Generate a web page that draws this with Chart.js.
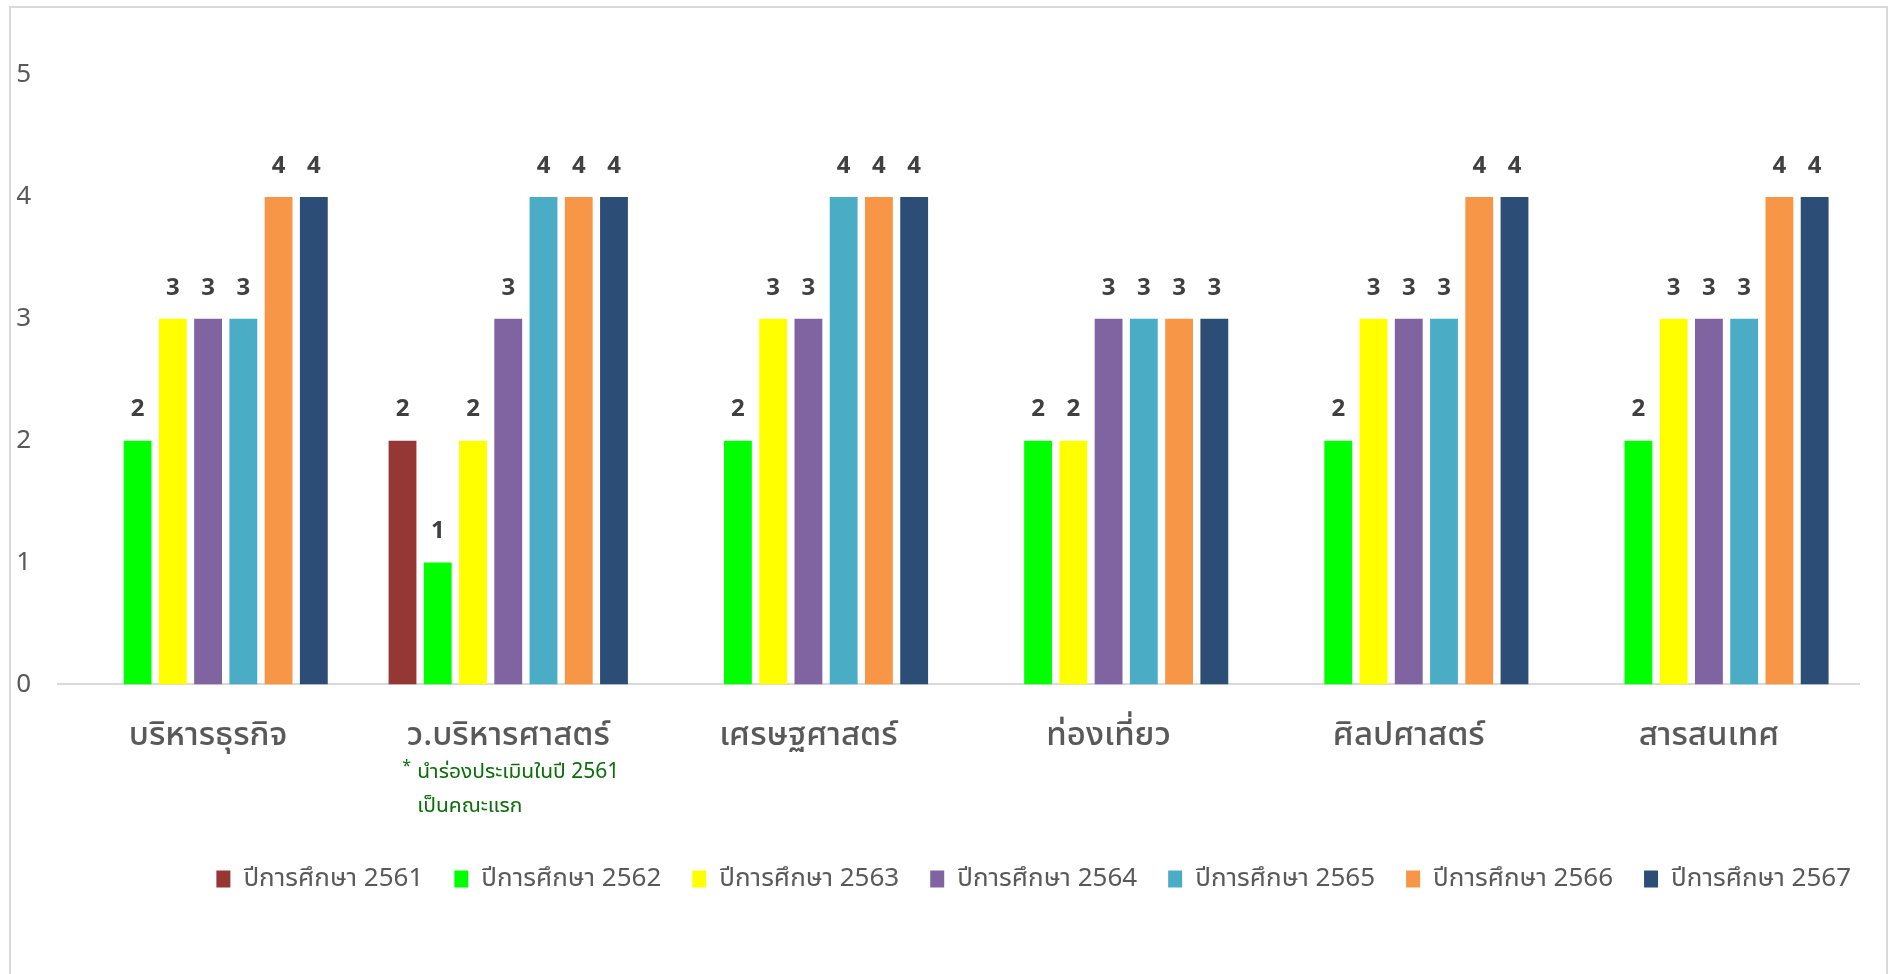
<!DOCTYPE html>
<html>
<head>
<meta charset="utf-8">
<script src="https://cdn.jsdelivr.net/npm/chart.js@4.4.1/dist/chart.umd.min.js"></script>
<style>
  html, body { margin: 0; padding: 0; background: #fff; }
  .frame {
    position: absolute; left: 9px; top: 6px; width: 1879px; height: 990px;
    border: 2px solid #d9d9d9; box-sizing: border-box;
  }
  .box { position: absolute; left: 2px; top: 2px; width: 1873px; height: 958px; }
</style>
</head>
<body>
<div class="frame"><div class="box"><canvas id="chart"></canvas></div></div>
<script>
// Faculties (categories) and assessed level per academic year.
const categories = ['บริหารธุรกิจ', 'ว.บริหารศาสตร์', 'เศรษฐศาสตร์', 'ท่องเที่ยว', 'ศิลปศาสตร์', 'สารสนเทศ'];
const yearLabels = ['ปีการศึกษา 2561', 'ปีการศึกษา 2562', 'ปีการศึกษา 2563', 'ปีการศึกษา 2564',
  'ปีการศึกษา 2565', 'ปีการศึกษา 2566', 'ปีการศึกษา 2567'];
const y2561 = [null, 2, null, null, null, null];
const y2562 = [2, 1, 2, 2, 2, 2];
const y2563 = [3, 2, 3, 2, 3, 3];
const y2564 = [3, 3, 3, 3, 3, 3];
const y2565 = [3, 4, 4, 3, 3, 3];
const y2566 = [4, 4, 4, 3, 4, 4];
const y2567 = [4, 4, 4, 3, 4, 4];
const yTicks = [0, 1, 2, 3, 4, 5];

// footnote under the pilot faculty
const noteIndex = 1;
const noteLines = ['นำร่องประเมินในปี 2561', 'เป็นคณะแรก'];

const colors = ['#953735', '#00ff00', '#ffff00', '#8064a2', '#4bacc6', '#f79646', '#2c4d75'];
const series = [y2561, y2562, y2563, y2564, y2565, y2566, y2567];

const FONT = "'Noto Sans Thai UI', 'Noto Sans Thai', 'Noto Sans', sans-serif";
Chart.defaults.font.family = FONT;

// value above each bar
const valueLabels = {
  id: 'valueLabels',
  afterDatasetsDraw(chart) {
    const { ctx } = chart;
    ctx.save();
    ctx.font = `bold 24px ${FONT}`;
    ctx.fillStyle = '#404040';
    ctx.textAlign = 'center';
    ctx.textBaseline = 'middle';
    chart.data.datasets.forEach((ds, i) => {
      chart.getDatasetMeta(i).data.forEach((bar, j) => {
        if (ds.data[j] == null) return;
        ctx.fillText(String(ds.data[j]), bar.x, bar.y - 31);
      });
    });
    ctx.restore();
  }
};

const footNote = {
  id: 'footNote',
  afterDraw(chart) {
    const { ctx } = chart;
    const x = chart.scales.x.getPixelForValue(noteIndex);
    const top = chart.chartArea.bottom;
    ctx.save();
    ctx.fillStyle = '#0b6e0b';
    ctx.textBaseline = 'middle';
    ctx.font = `16px ${FONT}`;
    ctx.fillText('*', x - 106, top + 82);
    ctx.font = `21px ${FONT}`;
    ctx.fillText(noteLines[0], x - 91, top + 88);
    ctx.fillText(noteLines[1], x - 91, top + 122);
    ctx.restore();
  }
};

new Chart(document.getElementById('chart'), {
  type: 'bar',
  data: {
    labels: categories,
    datasets: series.map((data, i) => ({
      label: yearLabels[i],
      data,
      backgroundColor: colors[i],
      borderWidth: 0,
      categoryPercentage: 0.822,
      barPercentage: 0.79
    }))
  },
  options: {
    responsive: true,
    maintainAspectRatio: false,
    animation: false,
    layout: { padding: { top: 65, left: 4, right: 4, bottom: 66 } },
    plugins: {
      legend: {
        position: 'bottom',
        align: 'end',
        labels: {
          color: '#595959',
          font: { size: 26 },
          boxWidth: 14,
          boxHeight: 17,
          padding: 31
        }
      },
      tooltip: { enabled: false }
    },
    scales: {
      x: {
        grid: { display: false, drawTicks: false },
        border: { display: true, color: '#d9d9d9', width: 2 },
        ticks: { color: '#595959', font: { size: 33, weight: '500' }, padding: 31 },
        afterFit: (scale) => {
          scale.height += 49;
          scale.paddingRight = 27; // keeps the legend running past the plot's right edge
        }
      },
      y: {
        min: 0,
        max: 5,
        afterBuildTicks: (scale) => { scale.ticks = yTicks.map((v) => ({ value: v })); },
        afterFit: (scale) => { scale.width = 41; },
        grid: { display: false, drawTicks: false },
        border: { display: false },
        ticks: { color: '#595959', font: { size: 26 }, padding: 27 }
      }
    }
  },
  plugins: [valueLabels, footNote]
});
</script>
</body>
</html>
